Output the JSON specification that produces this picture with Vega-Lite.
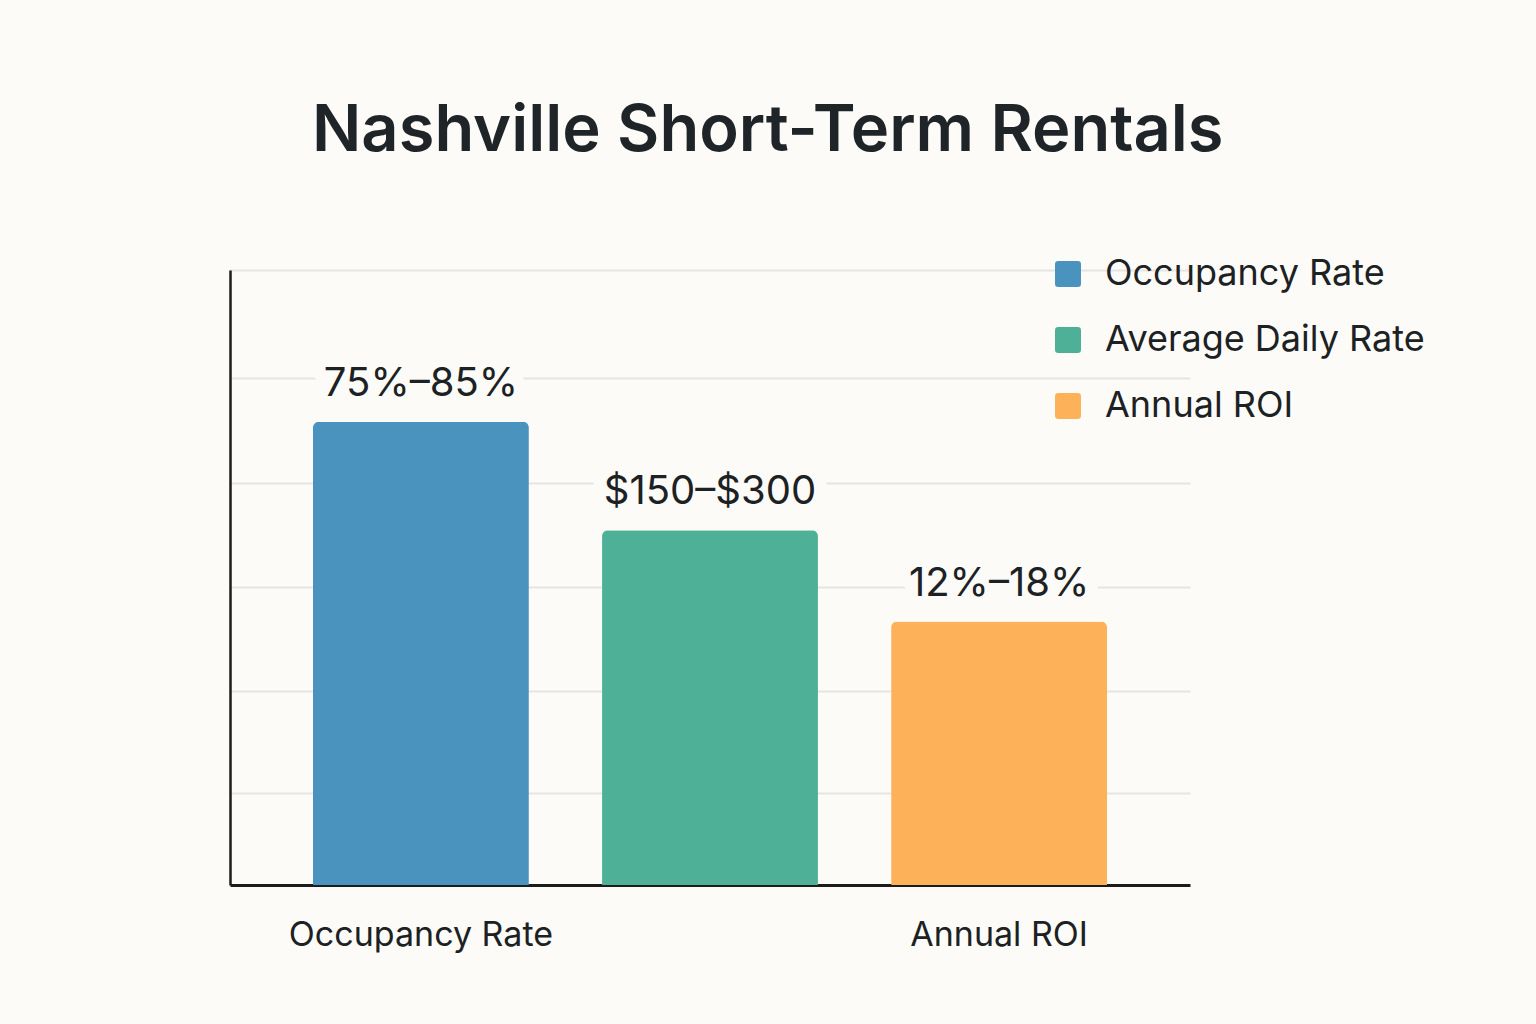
{
  "$schema": "https://vega.github.io/schema/vega-lite/v6.json",
  "autosize": "none",
  "width": 960,
  "height": 615,
  "padding": {"left": 230, "top": 270, "right": 346, "bottom": 139},
  "background": "#fcfbf7",
  "title": {
    "text": "Nashville Short-Term Rentals",
    "anchor": "start",
    "frame": "group",
    "dx": 82,
    "offset": 40,
    "baseline": "alphabetic",
    "font": "Inter",
    "fontSize": 65,
    "fontWeight": 600,
    "color": "#1e2428"
  },
  "config": {
    "view": {"stroke": null},
    "font": "Inter"
  },
  "data": {
    "values": [
      {"metric": "Occupancy Rate", "value": 4.52, "label": "75%–85%"},
      {"metric": "Average Daily Rate", "value": 3.46, "label": "$150–$300"},
      {"metric": "Annual ROI", "value": 2.57, "label": "12%–18%"}
    ]
  },
  "encoding": {
    "x": {
      "field": "metric",
      "type": "nominal",
      "sort": null,
      "scale": {"paddingInner": 0.253, "paddingOuter": 0.287},
      "axis": {
        "title": null,
        "labelAngle": 0,
        "labelFontSize": 34,
        "labelLimit": 500,
        "labelColor": "#1c2124",
        "labelPadding": 33,
        "labelExpr": "datum.value == 'Average Daily Rate' ? '' : datum.value",
        "ticks": false,
        "domainColor": "#1c1c1c",
        "domainWidth": 3,
        "grid": false
      }
    },
    "y": {
      "field": "value",
      "type": "quantitative",
      "scale": {"domain": [0, 6], "nice": false},
      "axis": {
        "title": null,
        "labels": false,
        "ticks": false,
        "values": [0.9, 1.89, 2.91, 3.92, 4.95, 6],
        "domainColor": "#1c1c1c",
        "domainWidth": 2.5,
        "grid": true,
        "gridColor": "#e6e5e1",
        "gridWidth": 2
      }
    }
  },
  "layer": [
    {
      "mark": {"type": "bar", "cornerRadiusTopLeft": 6, "cornerRadiusTopRight": 6},
      "encoding": {
        "color": {
          "field": "metric",
          "type": "nominal",
          "sort": null,
          "scale": {
            "domain": ["Occupancy Rate", "Average Daily Rate", "Annual ROI"],
            "range": ["#4a93be", "#4fb098", "#fdb25a"]
          },
          "legend": {
            "title": null,
            "orient": "none",
            "legendX": 820,
            "legendY": -14,
            "symbolType": "M -0.75 -1 H 0.75 Q 1 -1 1 -0.75 V 0.75 Q 1 1 0.75 1 H -0.75 Q -1 1 -1 0.75 V -0.75 Q -1 -1 -0.75 -1 Z",
            "symbolSize": 676,
            "symbolStrokeWidth": 0,
            "labelFontSize": 36,
            "labelColor": "#1c2124",
            "labelOffset": 19,
            "rowPadding": 30,
            "labelLimit": 400
          }
        }
      }
    },
    {
      "mark": {
        "type": "text",
        "baseline": "alphabetic",
        "dy": -26,
        "fontSize": 40,
        "stroke": "#fcfbf7",
        "strokeWidth": 26,
        "strokeJoin": "round",
        "fill": "#fcfbf7"
      },
      "encoding": {"text": {"field": "label"}}
    },
    {
      "mark": {
        "type": "text",
        "baseline": "alphabetic",
        "dy": -26,
        "fontSize": 40,
        "color": "#1c2124"
      },
      "encoding": {"text": {"field": "label"}}
    }
  ]
}
